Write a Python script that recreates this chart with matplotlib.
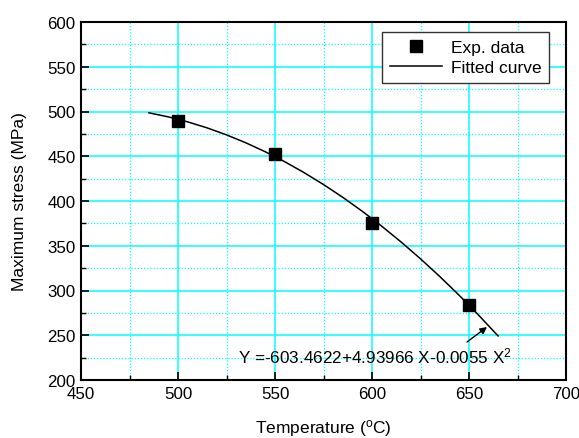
import matplotlib
matplotlib.use("Agg")
import matplotlib.pyplot as plt
from matplotlib.ticker import MultipleLocator

plt.rcParams['font.family'] = ['Liberation Sans', 'DejaVu Sans']
plt.rcParams['mathtext.fontset'] = 'custom'
plt.rcParams['mathtext.rm'] = 'Liberation Sans'
plt.rcParams['mathtext.it'] = 'Liberation Sans:italic'

FS = 12.5

# Experimental data
exp_temp = [500, 550, 600, 650]
exp_stress = [489, 453, 375, 284]

# Fitted curve
fit_temp = [485, 495, 505, 515, 525, 535, 545, 555, 565, 575, 585, 595,
            605, 615, 625, 635, 645, 655, 665]
fit_stress = [498.5, 494.0, 488.4, 481.7, 473.9, 465.0, 455.0, 443.9, 431.7,
              418.4, 404.0, 388.5, 371.9, 354.2, 335.4, 315.5, 294.5, 272.4, 249.2]

fig = plt.figure(figsize=(5.79, 4.39), dpi=100)
ax = fig.add_axes([81/579, 1-381/439, (566-81)/579, (381-23)/439])

ax.set_xlim(450, 700)
ax.set_ylim(200, 600)
ax.xaxis.set_major_locator(MultipleLocator(50))
ax.xaxis.set_minor_locator(MultipleLocator(25))
ax.yaxis.set_major_locator(MultipleLocator(50))
ax.yaxis.set_minor_locator(MultipleLocator(25))

ax.grid(which='major', color='#00FFFF', linewidth=1.1, linestyle='-')
ax.grid(which='minor', color='#00FFFF', linewidth=0.9, linestyle=(0, (1, 1.5)))
ax.set_axisbelow(True)

ax.tick_params(which='both', top=False, right=False)
ax.tick_params(which='major', direction='in', length=6, width=1.2, labelsize=12.2, pad=4)
ax.tick_params(which='minor', direction='in', length=3.5, width=1.0)
for s in ax.spines.values():
    s.set_linewidth(1.5)

ax.plot(fit_temp, fit_stress, color='black', linewidth=1.1, label='Fitted curve', zorder=3)
ax.plot(exp_temp, exp_stress, linestyle='none', marker='s', markersize=8.5,
        color='black', label='Exp. data', zorder=4)

handles, labels = ax.get_legend_handles_labels()
leg = ax.legend(handles[::-1], labels[::-1], loc='upper right',
                bbox_to_anchor=(549/579, 1-33/439), bbox_transform=fig.transFigure,
                fontsize=FS, frameon=True, fancybox=False, framealpha=1,
                edgecolor='#333333', borderpad=0.45, labelspacing=0.3,
                handlelength=3.0, handletextpad=0.5, borderaxespad=0)
leg.get_frame().set_linewidth(1.0)

ax.set_xlabel(r'Temperature ($^{\rm o}$C)', fontsize=FS)
ax.set_ylabel('Maximum stress (MPa)', fontsize=FS)
ax.xaxis.set_label_coords(0.5, -(418-381)/358)
ax.yaxis.set_label_coords(-(81-27)/485, 0.5)

ax.annotate('', xy=(487, 439-328), xycoords='figure pixels', xytext=(467, 439-343),
            textcoords='figure pixels',
            arrowprops=dict(arrowstyle='-|>', color='black', lw=1.0,
                            mutation_scale=10, shrinkA=0, shrinkB=0))
ax.text(238/579, 1-356/439, r'Y =-603.4622+4.93966 X-0.0055 X$^{2}$',
        transform=fig.transFigure, fontsize=12.3, va='center', ha='left')

fig.savefig('out.png', dpi=100)
